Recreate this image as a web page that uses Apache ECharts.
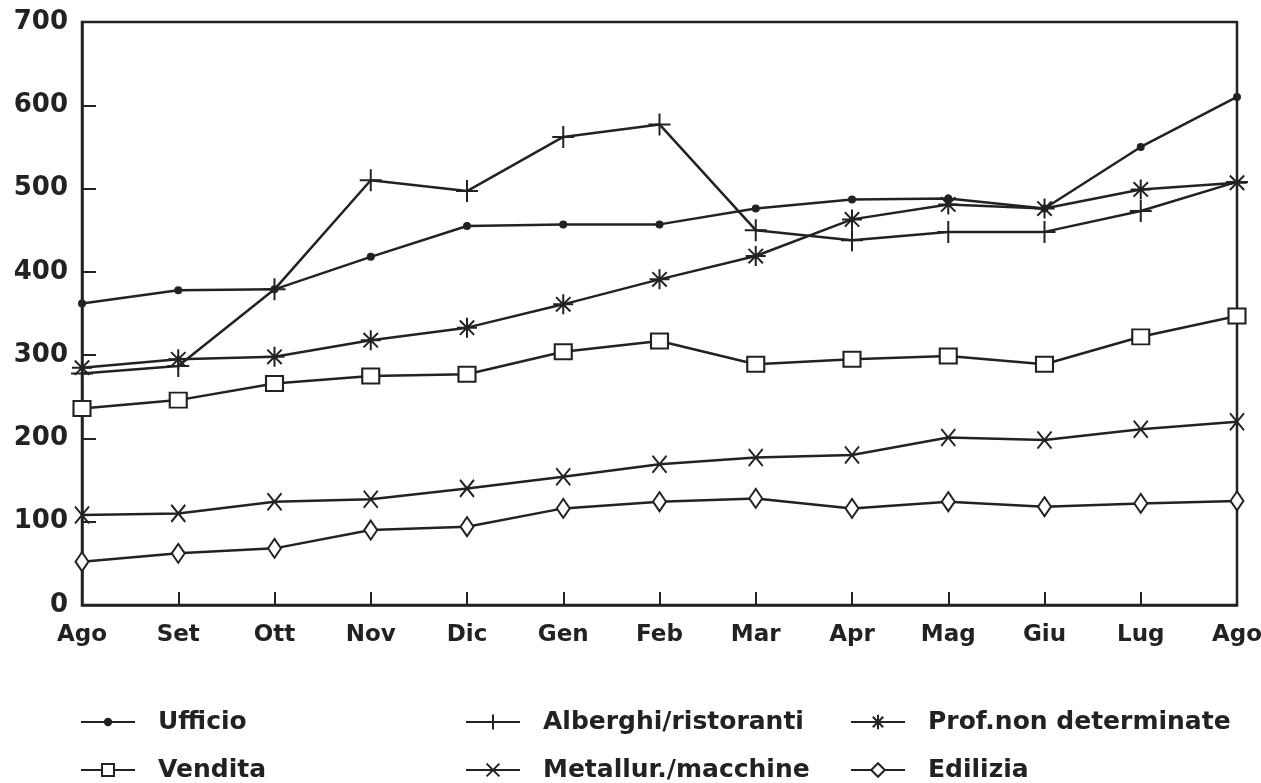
<!DOCTYPE html>
<html>
<head>
<meta charset="utf-8">
<script src="https://cdn.jsdelivr.net/npm/echarts@6/dist/echarts.min.js"></script>
<style>
  html, body { margin: 0; padding: 0; background: #fff; }
  #chart { width: 1261px; height: 783px; }
</style>
</head>
<body>
<div id="chart"></div>
<script>
// mesi (ago -> ago)
var months = ['Ago', 'Set', 'Ott', 'Nov', 'Dic', 'Gen', 'Feb', 'Mar', 'Apr', 'Mag', 'Giu', 'Lug', 'Ago'];
var yTicks = [0, 100, 200, 300, 400, 500, 600, 700];

var ufficio   = [362, 378, 379, 418, 455, 457, 457, 476, 487, 488, 476, 550, 610];
var alberghi  = [278, 287, 379, 510, 497, 562, 577, 450, 438, 448, 448, 473, 508];
var prof      = [285, 295, 298, 318, 333, 361, 391, 419, 463, 481, 476, 499, 507];
var vendita   = [236, 246, 266, 275, 277, 304, 317, 289, 295, 299, 289, 322, 347];
var metallur  = [108, 110, 124, 127, 140, 154, 169, 177, 180, 201, 198, 211, 220];
var edilizia  = [52, 62, 68, 90, 94, 116, 124, 128, 116, 124, 118, 122, 125];

var ink = '#222';
var font = 'DejaVu Sans';

var plusPath  = 'path://M0,-1L0,1M-1,0L1,0';
var starPath  = 'path://M0,-1L0,1M-1,0L1,0M-0.72,-0.72L0.72,0.72M-0.72,0.72L0.72,-0.72';
var crossPath = 'path://M-1,-1L1,1M-1,1L1,-1';

function serie(name, data, symbol, size) {
    return {
        name: name,
        type: 'line',
        data: data,
        symbol: symbol,
        symbolSize: size,
        showAllSymbol: true,
        lineStyle: { color: ink, width: 2.5 },
        itemStyle: { color: ink, borderColor: ink, borderWidth: 2 },
        emphasis: { disabled: true },
        animation: false
    };
}

// una legenda per voce, per poterle mettere in colonne
function voce(name, left, top, h) {
    return {
        data: [name],
        left: left,
        top: top,
        padding: 0,
        itemWidth: 54,
        itemHeight: h,
        selectedMode: false,
        textStyle: {
            fontFamily: font, fontSize: 25, fontWeight: 'bold', color: ink,
            lineHeight: 30, padding: [0, 0, 0, 18]
        }
    };
}

var chart = echarts.init(document.getElementById('chart'));
chart.setOption({
    backgroundColor: '#fff',
    grid: {
        left: 82, right: 24, top: 22, bottom: 178,
        outerBoundsMode: 'none',
        show: true, borderColor: ink, borderWidth: 2.5
    },
    xAxis: {
        type: 'category',
        data: months,
        boundaryGap: false,
        axisLine: { lineStyle: { color: ink, width: 2.5 } },
        axisTick: { inside: true, length: 13, lineStyle: { color: ink, width: 2 } },
        axisLabel: { color: ink, fontFamily: font, fontSize: 23, fontWeight: 'bold', margin: 19 },
        splitLine: { show: false }
    },
    yAxis: {
        type: 'value',
        min: yTicks[0],
        max: yTicks[yTicks.length - 1],
        interval: 100,
        axisLine: { show: true, lineStyle: { color: ink, width: 2.5 } },
        axisTick: { show: true, inside: true, length: 14, lineStyle: { color: ink, width: 2 } },
        axisLabel: { color: ink, fontFamily: font, fontSize: 26, fontWeight: 'bold', margin: 14 },
        splitLine: { show: false }
    },
    legend: [
        voce('Ufficio', 80, 707, 8),
        voce('Vendita', 80, 755, 15),
        voce('Alberghi/ristoranti', 465, 707, 19),
        voce('Metallur./macchine', 465, 755, 16),
        voce('Prof.non determinate', 850, 707, 18),
        voce('Edilizia', 850, 755, 17)
    ],
    series: [
        serie('Ufficio', ufficio, 'circle', 6),
        serie('Alberghi/ristoranti', alberghi, plusPath, 22),
        serie('Prof.non determinate', prof, starPath, 20),
        serie('Vendita', vendita, 'emptyRect', [17, 15]),
        serie('Metallur./macchine', metallur, crossPath, [14, 17]),
        serie('Edilizia', edilizia, 'emptyDiamond', [13, 19])
    ]
});
</script>
</body>
</html>
